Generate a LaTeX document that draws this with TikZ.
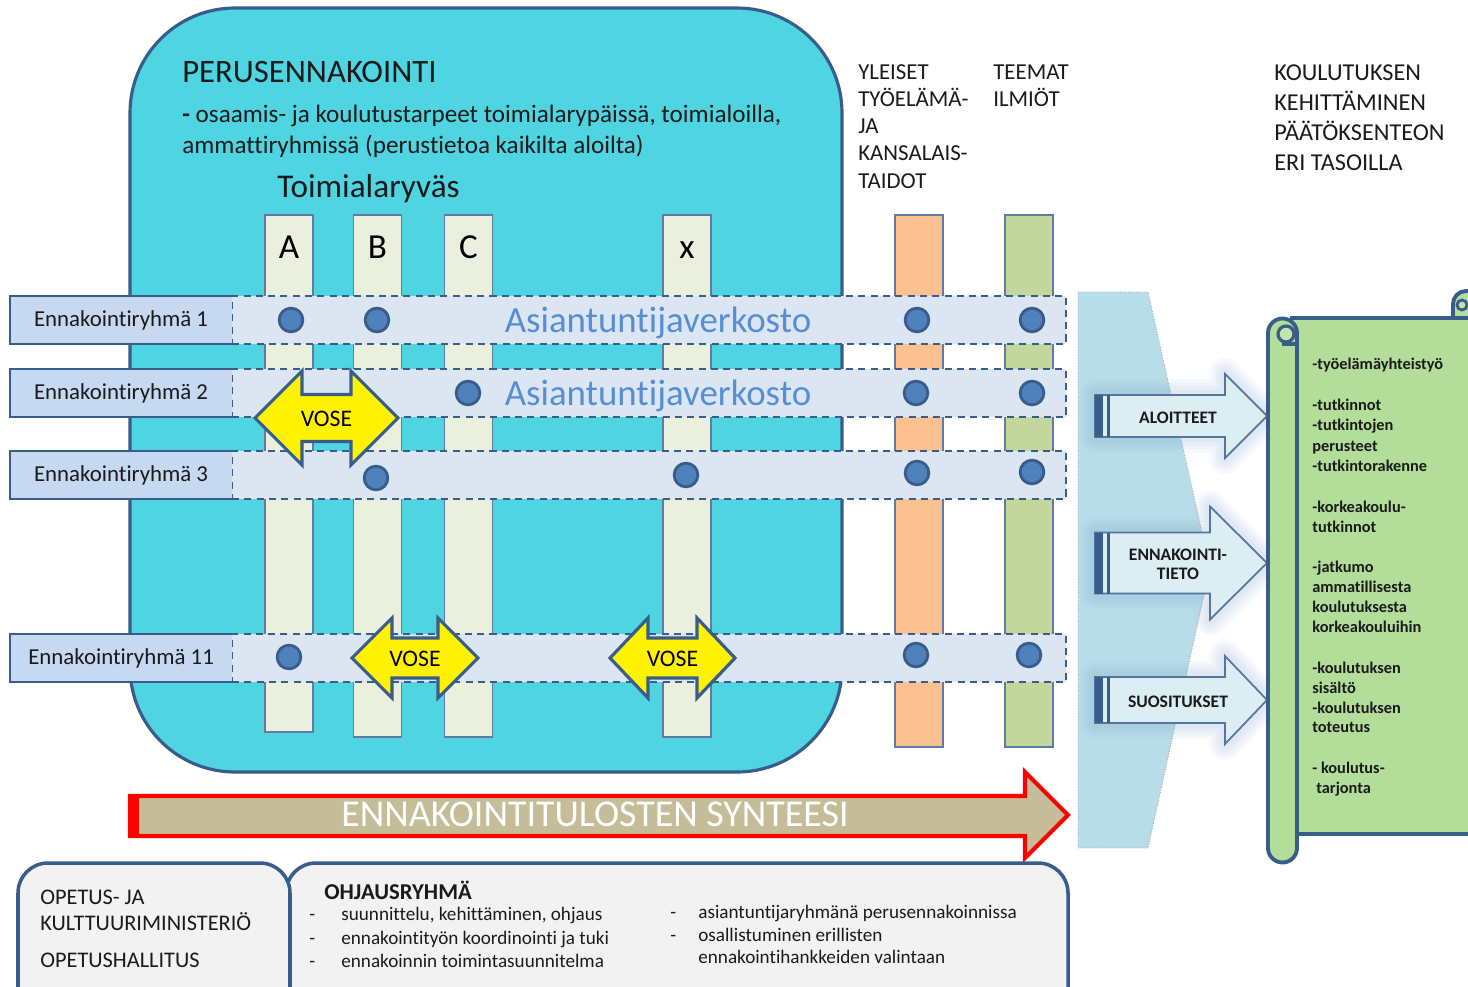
\documentclass[tikz,border=0pt]{standalone}
\usepackage{fontspec}
\setmainfont{Carlito}[Ligatures=NoCommon]
\usetikzlibrary{positioning}

\definecolor{boxcyan}{HTML}{4FD5E2}
\definecolor{edgeblue}{HTML}{385D8A}
\definecolor{colbeige}{HTML}{EBEFDD}
\definecolor{bandblue}{HTML}{DCE6F2}
\definecolor{groupblue}{HTML}{C6D9F1}
\definecolor{dotblue}{HTML}{4F81BD}
\definecolor{netblue}{HTML}{558ED5}
\definecolor{colorange}{HTML}{FAC090}
\definecolor{colgreen}{HTML}{C3D69B}
\definecolor{funnelblue}{HTML}{B7DEE8}
\definecolor{arrowblue}{HTML}{DBEEF4}
\definecolor{scrollgreen}{HTML}{B3DE9A}
\definecolor{synthtan}{HTML}{C4BD97}
\definecolor{boxgray}{HTML}{F2F2F2}
\definecolor{darktext}{HTML}{1A1A1A}

\tikzset{
  column/.style={draw=edgeblue!80, line width=0.8pt},
  band/.style={draw=edgeblue, fill=bandblue, line width=1.1pt, dash pattern=on 4pt off 3pt,
    minimum width=16.68cm, minimum height=0.96cm, inner sep=0pt, outer sep=0pt},
  group/.style={fill=groupblue, minimum width=4.44cm, minimum height=0.96cm, inner sep=0pt,
    outer sep=0pt, font=\fontsize{13}{15}\selectfont, text=darktext},
  dot/.style={circle, fill=dotblue, draw=edgeblue, line width=1.6pt, minimum size=13.5pt, inner sep=0pt},
  vose/.style={fill=yellow, draw=edgeblue, line width=1.8pt, line join=miter},
  label/.style={anchor=base west, inner sep=0pt, text=darktext},
  flow/.style={fill=arrowblue, draw=edgeblue!85, line width=1pt},
  scroll/.style={fill=scrollgreen, draw=edgeblue, line width=2.2pt},
  lower/.style={fill=boxgray, draw=edgeblue, line width=2pt, rounded corners=0.6cm},
}

\begin{document}
\begin{tikzpicture}[x=0.02cm, y=-0.02cm]
\useasboundingbox (0,0) rectangle (1468,987);

% perusennakointi
\draw [fill=boxcyan, draw=edgeblue, line width=1.8pt, rounded corners=2.1cm] (130,8) rectangle (842,772);
\node [label, font=\fontsize{18.6}{21}\selectfont] (title) at (182,82) {PERUSENNAKOINTI};
\node [label, font=\fontsize{14.3}{17}\selectfont] (sub1) at (182,122) {\textbf{-} osaamis- ja koulutustarpeet toimialarypäissä, toimialoilla,};
\node [label, font=\fontsize{14.3}{17}\selectfont] (sub2) at (182,153) {ammattiryhmissä (perustietoa kaikilta aloilta)};
\node [label, font=\fontsize{18.9}{21}\selectfont] (cluster) at (277,197) {Toimialaryväs};

% columns
\foreach \x/\b/\t in {289/732/A, 377.5/737/B, 468.5/737/C, 687/737/x} {
  \draw [column, fill=colbeige] (\x-24,215) rectangle (\x+24,\b);
  \node [anchor=base, inner sep=0pt, font=\fontsize{20}{22}\selectfont] at (\x,258) {\t};
}
\draw [column, fill=colorange] (895,215) rectangle (943,747);
\draw [column, fill=colgreen] (1005,215) rectangle (1053,747);

% rows
\foreach \n/\y in {1/320, 2/393, 3/475, 11/658} {
  \node [band] (band\n) at (649,\y) {};
  \node [group, left=0pt of band\n] (grp\n) {Ennakointiryhmä \n};
  \draw [edgeblue, line width=1.4pt] (grp\n.north east) -- (grp\n.north west)
    -- (grp\n.south west) -- (grp\n.south east);
}

\node [anchor=base, inner sep=0pt, text=netblue, font=\fontsize{21}{24}\selectfont] (net1) at (658,332) {Asiantuntijaverkosto};
\node [anchor=base, inner sep=0pt, text=netblue, font=\fontsize{21}{24}\selectfont] (net2) at (658,405) {Asiantuntijaverkosto};

\foreach \x/\y [count=\i] in {291/320, 377/320, 917/320, 1032/320, 468/393, 916/393, 1032/393,
  376/478, 686/475, 917/473, 1032/472, 289/657, 916/655, 1029/655}
  \node [dot] (dot\i) at (\x,\y) {};

% vose
\foreach \cx/\cy/\L/\tip/\h/\s [count=\i] in {326.5/418/71.5/47/47/23.5, 415/658/63/40/40/20, 672.5/658/62.5/38/40/20} {
  \draw [vose] (\cx-\L,\cy) -- (\cx-\L+\tip,\cy-\h) -- (\cx-\L+\tip,\cy-\s) -- (\cx+\L-\tip,\cy-\s)
    -- (\cx+\L-\tip,\cy-\h) -- (\cx+\L,\cy) -- (\cx+\L-\tip,\cy+\h) -- (\cx+\L-\tip,\cy+\s)
    -- (\cx-\L+\tip,\cy+\s) -- (\cx-\L+\tip,\cy+\h) -- cycle;
  \node [anchor=center, inner sep=0pt, font=\fontsize{13.5}{15}\selectfont] (vose\i) at (\cx,\cy+1) {VOSE};
}

% column headings
\foreach \y/\t in {79/YLEISET, 106/TYÖELÄMÄ-, 133/JA, 160.5/KANSALAIS-, 188/TAIDOT}
  \node [label, font=\fontsize{13}{15}\selectfont] at (858,\y) {\t};
\foreach \y/\t in {79/TEEMAT, 106/ILMIÖT}
  \node [label, font=\fontsize{13}{15}\selectfont] at (993,\y) {\t};
\foreach \y/\t in {80/KOULUTUKSEN, 110/KEHITTÄMINEN, 140.5/PÄÄTÖKSENTEON, 170.5/ERI TASOILLA}
  \node [label, font=\fontsize{13.8}{15}\selectfont] at (1274,\y) {\t};

% funnel and flows
\draw [fill=funnelblue, draw=gray!70, densely dotted, line width=0.5pt]
  (1078,292) -- (1148,292) -- (1210,568) -- (1148,848) -- (1078,848) -- cycle;
\foreach \cy/\s/\h/\hb/\txt/\tb [count=\i] in {416/21/42/1225/ALOITTEET/423,
    563/30.5/56.5/1210/{ENNAKOINTI-\\TIETO}/579, 700/23/44/1225/SUOSITUKSET/707} {
  \foreach \w in {18, 14, 10, 6}
    \draw [draw=dotblue!70, line width=\w pt, opacity=0.07, line join=round]
      (1095,\cy-\s) -- (\hb,\cy-\s) -- (\hb,\cy-\h) -- (1267,\cy) -- (\hb,\cy+\h) -- (\hb,\cy+\s) -- (1095,\cy+\s) -- cycle;
  \draw [flow] (1095,\cy-\s) -- (\hb,\cy-\s) -- (\hb,\cy-\h) -- (1267,\cy) -- (\hb,\cy+\h)
    -- (\hb,\cy+\s) -- (1095,\cy+\s) -- cycle;
  \fill [edgeblue] (1095,\cy-\s) rectangle (1103,\cy+\s);
  \fill [edgeblue] (1107,\cy-\s) rectangle (1110,\cy+\s);
  \node [anchor=base, align=center, inner sep=0pt, text=darktext,
    font=\fontsize{10}{10.8}\selectfont\bfseries] (flow\i) at (1178,\tb) {\txt};
}

% scroll
\draw [scroll] (1290,318) -- (1475,318) -- (1475,834) -- (1290,834);
\draw [scroll] (1453,318) -- (1453,304) arc [start angle=180, end angle=270, radius=13] -- (1475,291) -- (1475,318) -- cycle;
\draw [edgeblue, line width=1.6pt, fill=scrollgreen!80!white] (1462,305) circle [radius=5];
\draw [scroll] (1268,333) -- (1268,848) arc [start angle=180, end angle=0, radius=14.5]
  -- (1297,333) arc [start angle=0, end angle=-180, radius=14.5] -- cycle;
\draw [edgeblue, line width=1.8pt, fill=scrollgreen!80!white] (1286,334) circle [radius=8];
\draw [edgeblue, line width=1.8pt] (1282,344) -- (1297,344);
\foreach \y/\t in {369/-työelämäyhteistyö, 410/-tutkinnot, 430/-tutkintojen, 451/perusteet,
  471/-tutkintorakenne, 512/-korkeakoulu-, 532/tutkinnot, 572/-jatkumo, 592/ammatillisesta,
  612/koulutuksesta, 632/korkeakouluihin, 673/-koulutuksen, 693/sisältö, 713/-koulutuksen,
  732/toteutus, 773/- koulutus-}
  \node [label, font=\fontsize{9.3}{11}\selectfont\bfseries] at (1312,\y) {\t};
\node [label, font=\fontsize{9.3}{11}\selectfont\bfseries] at (1316,793) {tarjonta};

% synteesi
\draw [fill=synthtan, draw=red, line width=2.4pt, line join=miter]
  (130,796) -- (1025,796) -- (1025,772) -- (1068,815) -- (1025,858) -- (1025,836) -- (130,836) -- cycle;
\fill [red] (130,796) rectangle (139,836);
\node [anchor=base, inner sep=0pt, text=white, font=\fontsize{21.6}{24}\selectfont] (synth) at (595,826) {ENNAKOINTITULOSTEN SYNTEESI};

% lower boxes
\draw [lower] (286,863) rectangle (1068,1020);
\draw [lower] (18,863) rectangle (290,1020);
\node [label, font=\fontsize{12.7}{14}\selectfont] (okm1) at (40,904) {OPETUS- JA};
\node [label, font=\fontsize{12.7}{14}\selectfont] (okm2) at (40,930) {KULTTUURIMINISTERIÖ};
\node [label, font=\fontsize{12.7}{14}\selectfont] (oph) at (40,967) {OPETUSHALLITUS};
\node [label, font=\fontsize{12.9}{14}\selectfont\bfseries] (steer) at (324,899) {OHJAUSRYHMÄ};
\foreach \y/\t in {920/{suunnittelu, kehittäminen, ohjaus}, 944/ennakointityön koordinointi ja tuki,
  967/ennakoinnin toimintasuunnitelma} {
  \node [label, font=\fontsize{10.9}{12}\selectfont] at (309,\y) {-};
  \node [label, font=\fontsize{10.9}{12}\selectfont] at (341,\y) {\t};
}
\foreach \y in {918, 941}
  \node [label, font=\fontsize{10.9}{12}\selectfont] at (670,\y) {-};
\foreach \y/\t in {918/asiantuntijaryhmänä perusennakoinnissa, 941/osallistuminen erillisten,
  963/ennakointihankkeiden valintaan}
  \node [label, font=\fontsize{10.9}{12}\selectfont] at (698,\y) {\t};

\end{tikzpicture}
\end{document}
